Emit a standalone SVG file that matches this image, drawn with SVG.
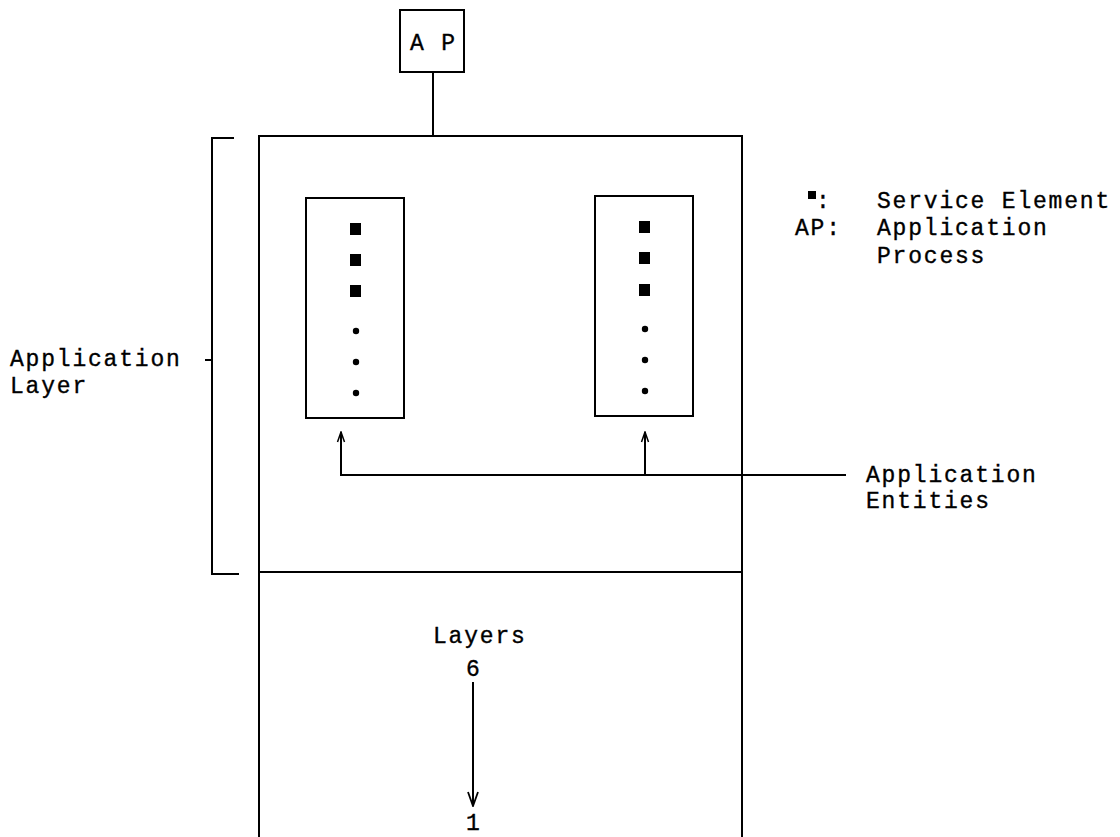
<svg xmlns="http://www.w3.org/2000/svg" width="1120" height="837" viewBox="0 0 1120 837">
<style>
.ln{stroke:#000;stroke-width:2;fill:none}
.bx{stroke:#000;stroke-width:2;fill:#fff}
.t{font-family:"Liberation Mono","Courier New",monospace;font-size:23px;letter-spacing:1.8px;fill:#000;stroke:#000;stroke-width:0.35}
.sq{fill:#000}
</style>
<defs>
<marker id="ah" markerWidth="12" markerHeight="10" refX="11" refY="5" orient="auto" markerUnits="userSpaceOnUse" viewBox="0 0 12 10">
<path d="M1,1.5 L11,5 L1,8.5" fill="none" stroke="#000" stroke-width="1.5"/>
</marker>
<marker id="ah2" markerWidth="16" markerHeight="12" refX="15" refY="6" orient="auto" markerUnits="userSpaceOnUse" viewBox="0 0 16 12">
<path d="M1,1 L15,6 L1,11" fill="none" stroke="#000" stroke-width="1.8"/>
</marker>
</defs>
<rect width="1120" height="837" fill="#fff"/>

<g id="ap">
<rect class="bx" x="400" y="10" width="64" height="62"/>
<text class="t" x="410" y="50">A P</text>
</g>

<g id="application-layer">
<path class="ln" d="M259,837 L259,136 L742,136 L742,837"/>
<line class="ln" x1="259" y1="572" x2="742" y2="572"/>
</g>

<g id="entity-left">
<rect class="bx" x="306" y="198" width="98" height="220"/>
<rect class="sq" x="350" y="223" width="11" height="12"/>
<rect class="sq" x="350" y="254" width="11" height="12"/>
<rect class="sq" x="350" y="285" width="11" height="12"/>
<circle class="sq" cx="356" cy="331" r="3.2"/>
<circle class="sq" cx="356" cy="362" r="3.2"/>
<circle class="sq" cx="356" cy="393" r="3.2"/>
</g>

<g id="entity-right">
<rect class="bx" x="595" y="196" width="98" height="220"/>
<rect class="sq" x="639" y="221" width="11" height="12"/>
<rect class="sq" x="639" y="252" width="11" height="12"/>
<rect class="sq" x="639" y="284" width="11" height="12"/>
<circle class="sq" cx="645" cy="329" r="3.2"/>
<circle class="sq" cx="645" cy="360" r="3.2"/>
<circle class="sq" cx="645" cy="391" r="3.2"/>
</g>

<g id="bracket">
<path class="ln" d="M234,138 L212,138 L212,574 L239,574"/>
<line class="ln" x1="205" y1="360" x2="212" y2="360"/>
<text class="t" x="10" y="366">Application</text>
<text class="t" x="10" y="393">Layer</text>
</g>

<g id="legend">
<rect class="sq" x="808" y="191" width="8" height="8"/>
<text class="t" x="816" y="208">:</text>
<text class="t" x="877" y="208">Service Element</text>
<text class="t" x="795" y="235">AP:</text>
<text class="t" x="877" y="235">Application</text>
<text class="t" x="877" y="263">Process</text>
</g>

<g id="entities-label">
<text class="t" x="866" y="482">Application</text>
<text class="t" x="866" y="508">Entities</text>
</g>

<g id="layers-label">
<text class="t" x="433" y="643">Layers</text>
<text class="t" x="466" y="676">6</text>
<text class="t" x="466" y="830">1</text>
</g>

<g id="connectors">
<path class="ln" d="M846,475 L341,475 L341,432" marker-end="url(#ah)"/>
<path class="ln" d="M645,475 L645,432" marker-end="url(#ah)"/>
<path class="ln" d="M473,682 L473,806" marker-end="url(#ah2)"/>
<line class="ln" x1="433" y1="72" x2="433" y2="136"/>
</g>
</svg>
